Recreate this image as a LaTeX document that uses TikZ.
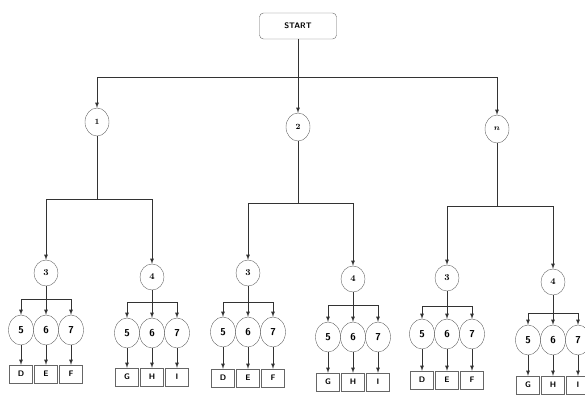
\documentclass[tikz,border=0pt]{standalone}
\usepackage{amsmath}
\usetikzlibrary{shapes.geometric}

\tikzset{
  startbox/.style={draw=black!60, rounded corners=4pt, minimum width=77pt, minimum height=26pt, font=\sffamily\bfseries\fontsize{8}{9}\selectfont},
  lvlone/.style={draw=black!60, ellipse, inner sep=0pt, minimum width=24pt, minimum height=28pt, font=\bfseries\fontsize{8}{9}\selectfont},
  lvltwo/.style={draw=black!60, ellipse, inner sep=0pt, minimum width=24pt, minimum height=26pt, font=\bfseries\fontsize{9}{10}\selectfont},
  lvlthree/.style={draw=black!60, ellipse, inner sep=0pt, minimum width=25pt, minimum height=30pt, font=\sffamily\bfseries\fontsize{10}{11}\selectfont},
  leafbox/.style={draw=black!60, rectangle, inner sep=0pt, minimum width=23pt, minimum height=18pt, font=\sffamily\bfseries\fontsize{8}{9}\selectfont},
  link/.style={draw=black!80, line width=0.8pt},
  arrowlink/.style={link, -latex}
}

\begin{document}
\begin{tikzpicture}[x=1pt, y=-1pt]
    \useasboundingbox (0,0) rectangle (585,394);

    % Define the positions of the bars
    \coordinate (TopBar) at (298,77);
    \coordinate (1Bar) at (97,199);
    \coordinate (2Bar) at (298,203);
    \coordinate (nBar) at (497,206);

    % Draw the start and first level
    \node[startbox] (StartNode) at (298,26) {START};
    \node[lvlone] (1Node) at (97,122) {1};
    \node[lvlone] (2Node) at (298,127) {2};
    \node[lvlone] (nNode) at (497,129) {$\boldsymbol{n}$};

    \draw[link] (StartNode) -- (TopBar);
    \draw[arrowlink] (TopBar) -| (1Node);
    \draw[arrowlink] (TopBar) -- (2Node);
    \draw[arrowlink] (TopBar) -| (nNode);
    \draw[link] (1Node) -- (1Bar);
    \draw[link] (2Node) -- (2Bar);
    \draw[link] (nNode) -- (nBar);

    % Draw the lower levels
    \foreach \g/\p/\x/\py/\lab/\by/\ny/\bxy/\a/\b/\c in {
        L3/1/46/273/3/299/330/374/D/E/F,
        L4/1/152/277/4/302/333/377/G/H/I,
        M3/2/248/273/3/302/332/378/D/E/F,
        M4/2/353/279/4/305/337/382/G/H/I,
        R3/n/447/278/3/306/334/380/D/E/F,
        R4/n/553/282/4/313/340/385/G/H/I} {
      \node[lvltwo] (\g Node) at (\x,\py) {\lab};
      \draw[arrowlink] (\p Bar) -| (\g Node);
      \coordinate (\g Bar) at (\x,\by);
      \draw[link] (\g Node) -- (\g Bar);

      \node[lvlthree] (\g A) at (\x-25,\ny) {5};
      \node[lvlthree] (\g B) at (\x,\ny) {6};
      \node[lvlthree] (\g C) at (\x+25,\ny) {7};
      \node[leafbox] (\g X) at (\x-25,\bxy) {\a};
      \node[leafbox] (\g Y) at (\x,\bxy) {\b};
      \node[leafbox] (\g Z) at (\x+25,\bxy) {\c};

      \draw[arrowlink] (\g Bar) -| (\g A);
      \draw[arrowlink] (\g Bar) -- (\g B);
      \draw[arrowlink] (\g Bar) -| (\g C);
      \draw[arrowlink] (\g A) -- (\g X);
      \draw[arrowlink] (\g B) -- (\g Y);
      \draw[arrowlink] (\g C) -- (\g Z);
    }
\end{tikzpicture}
\end{document}
